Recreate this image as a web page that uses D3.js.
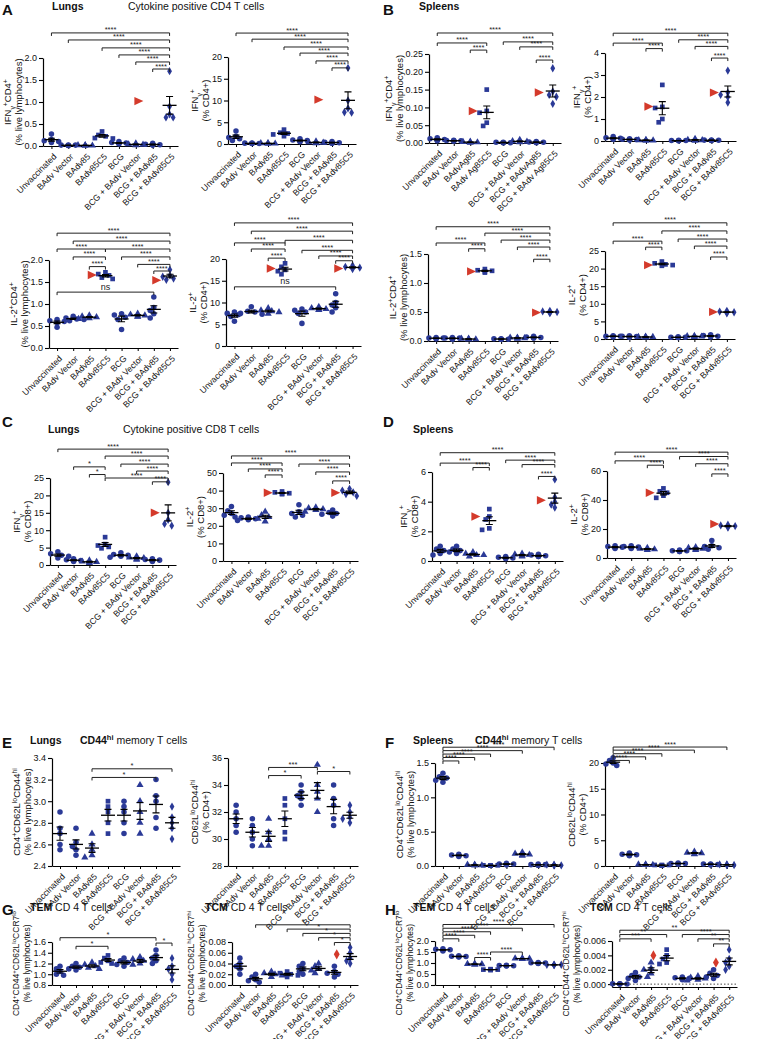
<!DOCTYPE html>
<html><head><meta charset="utf-8">
<script src="https://cdn.jsdelivr.net/npm/d3@7"></script>
<style>body{margin:0;background:#fff}svg{display:block}text{font-family:"Liberation Sans",Arial,sans-serif}</style>
</head><body><svg id="chart" width="764" height="1039"></svg>
<script>
// ---------------- DATA ----------------
const cats = ["Unvaccinated","BAdv Vector","BAdv85","BAdv85C5","BCG","BCG + BAdv Vector","BCG + BAdv85","BCG + BAdv85C5"];
const catsAg = ["Unvaccinated","BAdv Vector","BAdvAg85","BAdv Ag85C5","BCG","BCG + BAdv Vector","BCG + BAdvAg85","BCG + BAdv Ag85C5"];
const groupShapes = ["circle","circle","triangle","square","circle","triangle","circle","diamond"];

// A1 lungs IFNg+CD4+ % live
const A1_values = [[0.27,0.15,0.12,0.10,0.08],[0.02,0.01,0.02,0.01,0.02],[0.02,0.01,0.01,0.02,0.01],[0.33,0.25,0.22,0.18,0.17],[0.10,0.08,0.07,0.05,0.05],[0.06,0.04,0.03,0.02,0.03],[0.06,0.04,0.03,0.02,0.02],[1.70,0.90,0.72,0.65,0.65]];
const A1_red = [[6,1.02]];
const A1_brackets = [[0,7,2.57,"****"],[1,7,2.41,"****"],[3,7,2.23,"****"],[4,7,2.07,"****"],[5,7,1.91,"****"],[6,7,1.75,"****"]];
// A2 lungs IFNg+ % CD4+
const A2_values = [[3.0,1.8,1.5,1.2,0.8],[0.2,0.1,0.1,0.2,0.1],[0.2,0.1,0.2,0.1,0.1],[3.3,2.6,2.2,1.8,2.4],[1.2,0.9,0.8,0.6,0.5],[0.6,0.4,0.3,0.3,0.2],[0.6,0.4,0.3,0.2,0.2],[17.5,10.0,8.2,7.3,7.2]];
const A2_red = [[6,10.2]];
const A2_brackets = [[0,7,25.5,"****"],[1,7,24.1,"****"],[3,7,22.3,"****"],[4,7,20.9,"****"],[5,7,19.1,"****"],[6,7,17.5,"****"]];
// B1 spleens IFNg+CD4+ % live
const B1_values = [[0.015,0.012,0.010,0.008,0.006],[0.008,0.007,0.006,0.005,0.006],[0.004,0.003,0.002,0.002,0.001],[0.150,0.090,0.085,0.057,0.048],[0.002,0.001,0.001,0.002,0.001],[0.009,0.005,0.004,0.003,0.002],[0.004,0.003,0.002,0.002,0.001],[0.210,0.145,0.135,0.130,0.110]];
const B1_red = [[3,0.090],[7,0.142]];
const B1_brackets = [[0,7,0.309,"****"],[0,3,0.281,"****"],[2,3,0.261,"****"],[4,7,0.284,"****"],[5,7,0.270,"****"],[6,7,0.233,"****"]];
// B2 spleens IFNg+ % CD4+
const B2_values = [[0.20,0.15,0.12,0.10,0.08],[0.10,0.08,0.07,0.06,0.05],[0.05,0.04,0.03,0.03,0.02],[2.55,1.55,1.50,1.00,0.85],[0.03,0.02,0.02,0.01,0.01],[0.10,0.05,0.04,0.03,0.02],[0.05,0.04,0.03,0.02,0.02],[3.20,2.20,2.10,2.00,1.75]];
const B2_red = [[3,1.57],[7,2.20]];
const B2_brackets = [[0,7,4.9,"****"],[0,3,4.45,"****"],[2,3,4.2,"****"],[4,7,4.6,"****"],[5,7,4.3,"****"],[6,7,3.77,"****"]];
// A3 lungs IL-2+CD4+ % live
const A3_values = [[0.65,0.62,0.60,0.58,0.47],[0.72,0.68,0.66,0.65,0.62],[0.74,0.72,0.70,0.68,0.66],[1.72,1.68,1.65,1.60,1.57],[0.78,0.75,0.70,0.65,0.42],[0.78,0.76,0.74,0.72,0.71],[1.16,0.92,0.85,0.78,0.68],[1.78,1.65,1.62,1.58,1.55]];
const A3_red = [[3,1.66],[7,1.54]];
const A3_brackets = [[0,7,2.61,"****"],[1,7,2.43,"****"],[0,3,2.25,"****"],[3,7,2.25,"****"],[1,3,2.07,"****"],[4,7,2.07,"****"],[5,7,1.9,"****"],[2,3,1.85,"****"],[6,7,1.75,"****"],[0,6,1.27,"ns"]];
// A4 lungs IL-2+ % CD4+
const A4_values = [[7.8,7.5,7.2,6.8,5.7],[9.0,8.0,7.8,7.5,7.3],[8.7,8.2,8.0,7.8,7.4],[19.0,18.2,17.5,17.2,16.5],[8.5,8.2,7.8,7.5,5.2],[9.0,8.7,8.5,8.4,8.3],[12.0,10.0,9.4,8.8,7.8],[18.5,18.2,18.0,17.9,17.7]];
const A4_red = [[3,17.8],[7,17.8]];
const A4_brackets = [[0,7,28.3,"****"],[1,7,26.4,"****"],[0,3,23.7,"****"],[3,7,24.3,"****"],[1,3,22.3,"****"],[4,7,22.0,"****"],[5,7,20.7,"****"],[2,3,20.2,"****"],[6,7,19.6,"****"],[0,6,13.6,"ns"]];
// B3 spleens IL-2+CD4+ % live
const B3_values = [[0.06,0.05,0.05,0.04,0.04],[0.06,0.05,0.05,0.04,0.03],[0.04,0.04,0.03,0.03,0.03],[1.24,1.22,1.21,1.20,1.18],[0.04,0.04,0.03,0.03,0.03],[0.06,0.06,0.05,0.05,0.04],[0.08,0.07,0.06,0.05,0.05],[0.52,0.51,0.50,0.49,0.48]];
const B3_red = [[3,1.20],[7,0.49]];
const B3_brackets = [[0,7,1.97,"****"],[3,7,1.86,"****"],[0,3,1.69,"****"],[4,7,1.74,"****"],[5,7,1.62,"****"],[2,3,1.59,"****"],[6,7,1.41,"****"]];
// B4 spleens IL-2+ % CD4+
const B4_values = [[0.9,0.8,0.8,0.7,0.6],[0.9,0.8,0.7,0.6,0.5],[0.7,0.6,0.6,0.5,0.5],[22.0,21.5,21.2,21.0,20.8],[0.6,0.5,0.5,0.4,0.4],[0.9,0.8,0.7,0.7,0.6],[1.2,1.0,0.8,0.7,0.6],[8.0,7.8,7.6,7.5,7.3]];
const B4_red = [[3,21.0],[7,7.7]];
const B4_brackets = [[0,7,33.0,"****"],[3,7,30.7,"****"],[0,3,27.8,"****"],[4,7,28.4,"****"],[5,7,26.4,"****"],[2,3,26.1,"****"],[6,7,23.3,"****"]];
// C1 lungs IFNg+ % CD8+
const C1_values = [[3.8,3.2,2.8,2.5,2.0],[1.8,1.5,1.3,1.2,1.0],[1.3,1.0,0.9,0.8,0.6],[8.0,6.0,5.6,5.2,4.8],[3.5,3.0,2.8,2.5,2.2],[2.5,2.2,2.0,1.8,1.5],[1.8,1.6,1.4,1.2,1.0],[23.8,15.0,13.0,11.8,11.3]];
const C1_red = [[7,15.0]];
const C1_brackets = [[0,7,33.3,"****"],[3,7,31.3,"****"],[4,7,29.0,"****"],[1,3,28.2,"*"],[5,7,27.0,"****"],[2,3,26.0,"*"],[3,7,25.0,"****"],[6,7,23.9,"****"]];
// C2 lungs IL-2+ % CD8+
const C2_values = [[31,28.5,27,26,25],[25,24.5,24,23.5,23],[28,26,25,24,22.5],[39.5,39,38.5,38.2,38],[32,28,27,26,25],[30.5,30,29.5,29,28],[29,27.5,27,26.5,25.5],[41,40,39,38,37]];
const C2_red = [[3,38.8],[7,38.8]];
const C2_brackets = [[0,7,59.7,"****"],[0,3,55.7,"****"],[1,3,52.3,"****"],[2,3,48.9,"****"],[4,7,55.1,"****"],[5,7,50.6,"****"],[6,7,45.5,"****"]];
// D1 spleens IFNg+ % CD8+
const D1_values = [[1.0,0.8,0.7,0.5,0.4],[1.0,0.8,0.7,0.6,0.5],[0.6,0.5,0.4,0.4,0.3],[3.5,3.0,2.8,2.2,2.1],[0.3,0.25,0.2,0.2,0.15],[0.5,0.45,0.4,0.35,0.3],[0.45,0.4,0.35,0.3,0.3],[5.5,4.3,4.0,3.8,3.6]];
const D1_red = [[3,3.0],[7,4.1]];
const D1_brackets = [[0,7,7.3,"****"],[0,3,6.6,"****"],[2,3,6.3,"****"],[4,7,6.8,"****"],[5,7,6.5,"****"],[6,7,5.7,"****"]];
// D2 spleens IL-2+ % CD8+
const D2_values = [[8.5,8,7.5,7,6.5],[8.5,8,7.5,7,6.5],[7,6.5,6,6,5.5],[48,46,45,43,41.5],[5.5,5,5,4.5,4.5],[7.5,7,6.5,6,5.5],[12,8.5,8,7,6],[23,22.5,22,21.5,21]];
const D2_red = [[3,45],[7,23.5]];
const D2_brackets = [[0,7,73,"****"],[0,3,67,"****"],[2,3,64,"****"],[4,7,70,"****"],[5,7,65,"****"],[6,7,58,"****"]];
// E1 lungs CD62Llo CD44hi % live
const E1_values = [[2.9,2.75,2.7,2.6,2.55],[2.75,2.62,2.58,2.55,2.5],[2.7,2.6,2.55,2.5,2.48],[3.0,2.95,2.9,2.8,2.7],[3.0,2.95,2.9,2.8,2.7],[3.15,3.0,2.9,2.8,2.7],[3.2,3.05,3.0,2.85,2.75],[2.95,2.85,2.8,2.75,2.65]];
const E1_brackets = [[2,7,3.3,"*"],[2,6,3.22,"*"]];
// E2 lungs CD62Llo CD44hi % CD4+
const E2_values = [[32.5,32,31.5,31,30.5],[31.5,31,30.5,30,29.5],[31.5,30.5,30,29.5,29.5],[33,32.5,31.5,30.5,30],[34,33.5,33.2,33,32.5],[35.5,34,33.5,33,32],[34,33,32.5,31.5,31],[32.5,32,31.6,31.5,31.2]];
const E2_brackets = [[2,5,35.3,"***"],[2,4,34.7,"*"],[5,7,35.0,"*"]];
// F1 spleens CD62Llo CD44hi % live
const F1_values = [[1.35,1.30,1.28,1.25,1.22],[0.17,0.16,0.15,0.15,0.14],[0.02,0.02,0.01,0.01,0.01],[0.01,0.01,0.01,0.005,0.005],[0.04,0.03,0.03,0.02,0.02],[0.20,0.18,0.17,0.16,0.15],[0.03,0.02,0.02,0.01,0.01],[0.02,0.02,0.01,0.01,0.01]];
const F1_brackets = [[0,7,1.73,"****"],[0,5,1.68,"****"],[0,3,1.63,"****"],[0,2,1.58,"****"],[0,1,1.53,"****"]];
// F2 spleens CD62Llo CD44hi % CD4+
const F2_values = [[21,20.5,20,19.8,19.5],[2.5,2.3,2.2,2.1,2.0],[0.3,0.3,0.2,0.2,0.2],[0.2,0.2,0.2,0.1,0.1],[0.6,0.5,0.5,0.4,0.4],[2.8,2.6,2.5,2.4,2.3],[0.4,0.4,0.3,0.3,0.2],[0.3,0.3,0.2,0.2,0.2]];
const F2_brackets = [[0,7,23.1,"****"],[0,5,22.5,"****"],[0,3,21.8,"****"],[0,2,21.2,"****"],[0,1,20.5,"****"]];
// G1 lungs TEM
const G1_values = [[1.15,1.10,1.05,1.00,0.98],[1.20,1.15,1.13,1.10,1.08],[1.22,1.18,1.15,1.12,1.10],[1.35,1.30,1.25,1.22,1.20],[1.30,1.25,1.22,1.18,1.15],[1.32,1.28,1.25,1.20,1.18],[1.45,1.35,1.30,1.25,1.20],[1.30,1.15,1.10,1.00,0.90]];
const G1_brackets = [[0,6,1.68,"*"],[6,7,1.58,"*"],[1,3,1.52,"*"]];
// G2 lungs TCM
const G2_values = [[0.050,0.040,0.035,0.030,0.020],[0.020,0.015,0.010,0.008,0.005],[0.025,0.022,0.020,0.018,0.015],[0.025,0.022,0.020,0.018,0.015],[0.040,0.035,0.030,0.025,0.020],[0.040,0.035,0.030,0.027,0.022],[0.035,0.025,0.022,0.020,0.015],[0.070,0.060,0.050,0.045,0.040]];
const G2_red = [[7,0.057]];
const G2_brackets = [[1,7,0.112,"*"],[3,7,0.104,"*"],[4,7,0.096,"*"],[5,7,0.088,"*"],[6,7,0.079,"*"]];
// H1 spleens TEM
const H1_values = [[1.65,1.62,1.60,1.58,1.55],[1.33,1.31,1.30,1.28,1.27],[0.97,0.96,0.95,0.94,0.93],[0.72,0.70,0.70,0.69,0.68],[0.90,0.89,0.88,0.87,0.86],[1.22,1.21,1.20,1.19,1.18],[1.02,1.01,1.00,0.99,0.98],[0.93,0.92,0.92,0.91,0.90]];
const H1_brackets = [[0,7,2.75,"****"],[0,5,2.58,"****"],[0,3,2.42,"****"],[0,2,2.26,"****"],[0,1,2.1,"****"],[2,3,1.25,"****"],[3,5,1.5,"****"]];
// H2 spleens TCM
const H2_values = [[0.00005,0.00004,0.00003,0.00002,0.00001],[0.0016,0.0012,0.0010,0.0008,0.0005],[0.0030,0.0022,0.0020,0.0015,0.0010],[0.0048,0.0040,0.0035,0.0030,0.0028],[0.0010,0.0009,0.0008,0.0007,0.0006],[0.0011,0.0009,0.0008,0.0006,0.0005],[0.0020,0.0015,0.0012,0.0010,0.0008],[0.0048,0.0035,0.0030,0.0025,0.0020]];
const H2_red = [[3,0.0040],[7,0.0030]];
const H2_brackets = [[0,7,0.0075,"**"],[0,3,0.0069,"**"],[0,2,0.0063,"***"],[4,7,0.0069,"****"],[5,7,0.0063,"**"],[6,7,0.0056,"**"]];

// tick values
const T_A1=[0,0.5,1,1.5,2], T_A2=[0,5,10,15,20], T_B1=[0,0.05,0.1,0.15,0.2,0.25], T_B2=[0,1,2,3,4];
const T_B3=[0,0.5,1,1.5], T_B4=[0,5,10,15,20,25], T_C1=[0,5,10,15,20,25], T_C2=[0,10,20,30,40,50];
const T_D1=[0,2,4,6], T_D2=[0,20,40,60], T_E1=[2.4,2.6,2.8,3.0,3.2,3.4], T_E2=[28,30,32,34,36];
const T_F1=[0,0.5,1,1.5], T_F2=[0,5,10,15,20], T_G1=[0.8,1.0,1.2,1.4,1.6], T_G2=[0,0.02,0.04,0.06,0.08];
const T_H1=[0,0.5,1,1.5,2], T_H2=[0,0.002,0.004,0.006];

// ---------------- DRAWING ----------------
const svg = d3.select("#chart");
const BLUE = "#2b3a97", RED = "#d43a2b", FONT = '"Liberation Sans",Arial,sans-serif';
const symbolFor = {circle:d3.symbolCircle, triangle:d3.symbolTriangle, square:d3.symbolSquare, diamond:d3.symbolDiamond};
const symSize = {circle:24, triangle:22, square:22, diamond:20};

function rich(textSel, markup, fs){
  const re = /\^\{([^}]*)\}|_\{([^}]*)\}|([^_^]+)/g; let m;
  while((m = re.exec(markup))){
    if(m[1]!==undefined) textSel.append("tspan").attr("baseline-shift","super").attr("font-size",fs*0.72).text(m[1]);
    else if(m[2]!==undefined) textSel.append("tspan").attr("baseline-shift","sub").attr("font-size",fs*0.72).text(m[2]);
    else textSel.append("tspan").text(m[3]);
  }
}

function panel(c){
  const g = svg.append("g");
  const x = d3.scalePoint().domain(d3.range(8)).range([c.L, c.R]).padding(0.5);
  const step = x.step();
  const y = d3.scaleLinear().domain(c.domain).range([c.bot, c.top]);
  const fmt = d3.format(c.fmt);
  const ya = g.append("g").attr("transform",`translate(${c.L},0)`)
    .call(d3.axisLeft(y).tickValues(c.ticks).tickFormat(fmt).tickSize(4).tickSizeOuter(0));
  ya.attr("font-family",FONT).attr("font-size",9);
  ya.selectAll("text").attr("fill","#111").attr("x",-6);
  ya.select(".domain").attr("stroke-width",1.2);
  ya.selectAll(".tick line").attr("stroke-width",1.1);
  const xa = g.append("g").attr("transform",`translate(0,${c.bot})`)
    .call(d3.axisBottom(x).tickSize(3).tickSizeOuter(0).tickFormat(i=>c.cats[i]));
  xa.attr("font-family",FONT).attr("font-size",8.6);
  xa.select(".domain").attr("stroke-width",1.2);
  xa.selectAll("text").attr("fill","#111").attr("text-anchor","end").attr("x",0).attr("y",0).attr("dy","0.35em")
    .attr("transform","translate(3,9) rotate(-45)");
  const bb = ya.node().getBBox();
  const leftX = c.L + bb.x;
  const midY = (c.top + c.bot)/2;
  const fs = c.ylabSize || 9.5;
  const l1 = g.append("text").attr("transform",`translate(${leftX-17},${midY}) rotate(-90)`).attr("text-anchor","middle").attr("font-size",fs).attr("dy","0.35em").attr("fill","#111");
  rich(l1, c.ylab[0], fs);
  const l2 = g.append("text").attr("transform",`translate(${leftX-6},${midY}) rotate(-90)`).attr("text-anchor","middle").attr("font-size",fs).attr("dy","0.35em").attr("fill","#111");
  rich(l2, c.ylab[1], fs);
  if(c.zeroLine){
    g.append("line").attr("x1",c.L).attr("x2",c.R).attr("y1",y(0)).attr("y2",y(0)).attr("stroke","#333").attr("stroke-dasharray","1.5,2").attr("stroke-width",0.9);
  }
  c.values.forEach((vals,gi)=>{
    const shape = groupShapes[gi];
    const placed = [];
    [...vals].sort((a,b)=>b-a).forEach(v=>{
      const py = y(v); let off = 0;
      for(const o of [0,-3.6,3.6,-7.2,7.2,-10.8,10.8]){
        if(placed.every(p=>Math.hypot(p[0]-o,p[1]-py)>=4.4)){off=o;break;}
      }
      placed.push([off,py]);
      g.append("path").attr("d",d3.symbol(symbolFor[shape],symSize[shape])())
        .attr("transform",`translate(${x(gi)+off},${py})`).attr("fill",BLUE);
    });
    const m = d3.mean(vals), sem = d3.deviation(vals)/Math.sqrt(vals.length);
    const cx = x(gi);
    g.append("line").attr("x1",cx-7).attr("x2",cx+7).attr("y1",y(m)).attr("y2",y(m)).attr("stroke","#000").attr("stroke-width",1.3);
    g.append("path").attr("d",`M${cx-3.5},${y(m+sem)}H${cx+3.5}M${cx},${y(m+sem)}V${y(m-sem)}M${cx-3.5},${y(m-sem)}H${cx+3.5}`)
      .attr("stroke","#000").attr("stroke-width",1.1).attr("fill","none");
  });
  (c.red||[]).forEach(([gi,v])=>{
    const cx = x(gi) - step*0.85, cy = y(v);
    if(c.redShape==="diamond"){
      g.append("path").attr("d",d3.symbol(d3.symbolDiamond,30)()).attr("transform",`translate(${cx},${cy})`).attr("fill",RED);
    } else {
      g.append("path").attr("d",`M${cx-4},${cy-4.2}L${cx+5},${cy}L${cx-4},${cy+4.2}Z`).attr("fill",RED);
    }
  });
  (c.brackets||[]).forEach(([i,j,v,lab])=>{
    const x1 = x(i), x2 = x(j), by = y(v);
    g.append("path").attr("d",`M${x1},${by+3}V${by}H${x2}V${by+3}`).attr("fill","none").attr("stroke","#222").attr("stroke-width",1);
    g.append("text").attr("x",(x1+x2)/2).attr("y",lab==="ns"?by-2.5:by-0.5).attr("text-anchor","middle")
      .attr("font-size",lab==="ns"?9:7.5).attr("fill","#222").text(lab);
  });
}

const LBL = {
  ifnLive:["IFN_{γ}^{+}CD4^{+}","(% live lymphocytes)"], ifnCD4:["IFN_{γ}^{+}","(% CD4+)"],
  il2Live:["IL-2^{+}CD4^{+}","(% live lymphocytes)"], il2CD4:["IL-2^{+}","(% CD4+)"],
  ifnCD8:["IFN_{γ}^{+}","(% CD8+)"], il2CD8:["IL-2^{+}","(% CD8+)"],
  memLive:["CD4^{+}CD62L^{lo}CD44^{hi}","(% live lymphocytes)"], memCD4:["CD62L^{lo}CD44^{hi}","(% CD4+)"],
  temLive:["CD4^{+}CD44^{+}CD62L^{lo}CCR7^{lo}","(% live lymphocytes)"], tcmLive:["CD4^{+}CD44^{+}CD62L^{hi}CCR7^{hi}","(% live lymphocytes)"]
};

const panels = [
  {L:43,R:178,top:58,bot:146,domain:[0,2],ticks:T_A1,fmt:".1f",values:A1_values,red:A1_red,brackets:A1_brackets,cats,ylab:LBL.ifnLive},
  {L:228,R:356,top:57,bot:144,domain:[0,20],ticks:T_A2,fmt:"d",values:A2_values,red:A2_red,brackets:A2_brackets,cats,ylab:LBL.ifnCD4},
  {L:429,R:561,top:54,bot:143,domain:[0,0.25],ticks:T_B1,fmt:".2f",values:B1_values,red:B1_red,brackets:B1_brackets,cats:catsAg,ylab:LBL.ifnLive},
  {L:605,R:736,top:53,bot:141,domain:[0,4],ticks:T_B2,fmt:"d",values:B2_values,red:B2_red,brackets:B2_brackets,cats,ylab:LBL.ifnCD4},
  {L:49,R:178,top:260,bot:348,domain:[0,2],ticks:T_A1,fmt:".1f",values:A3_values,red:A3_red,brackets:A3_brackets,cats,ylab:LBL.il2Live},
  {L:226,R:361,top:259,bot:346,domain:[0,20],ticks:T_A2,fmt:"d",values:A4_values,red:A4_red,brackets:A4_brackets,cats,ylab:LBL.il2CD4},
  {L:428,R:558,top:254,bot:341,domain:[0,1.5],ticks:T_B3,fmt:".1f",values:B3_values,red:B3_red,brackets:B3_brackets,cats,ylab:LBL.il2Live},
  {L:605,R:735,top:251,bot:339,domain:[0,25],ticks:T_B4,fmt:"d",values:B4_values,red:B4_red,brackets:B4_brackets,cats,ylab:LBL.il2CD4},
  {L:50,R:176,top:478,bot:565,domain:[0,25],ticks:T_C1,fmt:"d",values:C1_values,red:C1_red,brackets:C1_brackets,cats,ylab:LBL.ifnCD8},
  {L:223,R:358,top:473,bot:561,domain:[0,50],ticks:T_C2,fmt:"d",values:C2_values,red:C2_red,brackets:C2_brackets,cats,ylab:LBL.il2CD8},
  {L:432,R:563,top:472,bot:561,domain:[0,6],ticks:T_D1,fmt:"d",values:D1_values,red:D1_red,brackets:D1_brackets,cats,ylab:LBL.ifnCD8},
  {L:607,R:736,top:471,bot:558,domain:[0,60],ticks:T_D2,fmt:"d",values:D2_values,red:D2_red,brackets:D2_brackets,cats,ylab:LBL.il2CD8},
  {L:52,R:180,top:758,bot:866,domain:[2.4,3.4],ticks:T_E1,fmt:".1f",values:E1_values,brackets:E1_brackets,cats,ylab:LBL.memLive},
  {L:228,R:358,top:758,bot:866,domain:[28,36],ticks:T_E2,fmt:"d",values:E2_values,brackets:E2_brackets,cats,ylab:LBL.memCD4},
  {L:435,R:562,top:763,bot:866,domain:[0,1.5],ticks:T_F1,fmt:".1f",values:F1_values,brackets:F1_brackets,cats,ylab:LBL.memLive},
  {L:605,R:735,top:763,bot:866,domain:[0,20],ticks:T_F2,fmt:"d",values:F2_values,brackets:F2_brackets,cats,ylab:LBL.memCD4},
  {L:52,R:180,top:942,bot:985,domain:[0.8,1.6],ticks:T_G1,fmt:".1f",values:G1_values,brackets:G1_brackets,cats,ylab:LBL.temLive,ylabSize:8.5},
  {L:232,R:358,top:942,bot:985,domain:[0,0.08],ticks:T_G2,fmt:".2f",values:G2_values,red:G2_red,redShape:"diamond",brackets:G2_brackets,cats,ylab:LBL.tcmLive,ylabSize:8.5},
  {L:435,R:562,top:941,bot:985,domain:[0,2],ticks:T_H1,fmt:".1f",values:H1_values,brackets:H1_brackets,cats,ylab:LBL.temLive,ylabSize:8.5},
  {L:612,R:737,top:941,bot:987,domain:[-0.0004,0.006],ticks:T_H2,fmt:".3f",values:H2_values,red:H2_red,redShape:"diamond",brackets:H2_brackets,cats,ylab:LBL.tcmLive,zeroLine:true,ylabSize:8.5}
];
panels.forEach(panel);

function title(x,y,parts){
  const t = svg.append("text").attr("x",x).attr("y",y).attr("fill","#111");
  parts.forEach(([s,w,fs,sup])=>{
    const ts = t.append("tspan").text(s).attr("font-size",fs).attr("font-weight",w);
    if(sup) ts.attr("baseline-shift","super");
  });
}
title(2,15,[["A","bold",15]]); title(52,10,[["Lungs","bold",10.5]]); title(128,10,[["Cytokine positive CD4 T cells","normal",10.5]]);
title(383,15,[["B","bold",15]]); title(419,10,[["Spleens","bold",10.5]]);
title(2,427,[["C","bold",15]]); title(48,433,[["Lungs","bold",10.5]]); title(123,433,[["Cytokine positive CD8 T cells","normal",10.5]]);
title(383,427,[["D","bold",15]]); title(413,433,[["Spleens","bold",10.5]]);
title(2,748,[["E","bold",15]]); title(30,744,[["Lungs","bold",10.5]]); title(80,744,[["CD44","bold",10.5],["hi","bold",7.5,true],[" memory T cells","normal",10.5]]);
title(385,748,[["F","bold",15]]); title(413,744,[["Spleens","bold",10.5]]); title(475,744,[["CD44","bold",10.5],["hi","bold",7.5,true],[" memory T cells","normal",10.5]]);
title(2,915,[["G","bold",15]]); title(30,911,[["TEM","bold",10.5],[" CD 4 T cells","normal",10.5]]); title(205,911,[["TCM","bold",10.5],[" CD 4 T cells","normal",10.5]]);
title(385,915,[["H","bold",15]]); title(413,911,[["TEM","bold",10.5],[" CD 4 T cells","normal",10.5]]); title(590,911,[["TCM","bold",10.5],[" CD 4 T cells","normal",10.5]]);
</script></body></html>
